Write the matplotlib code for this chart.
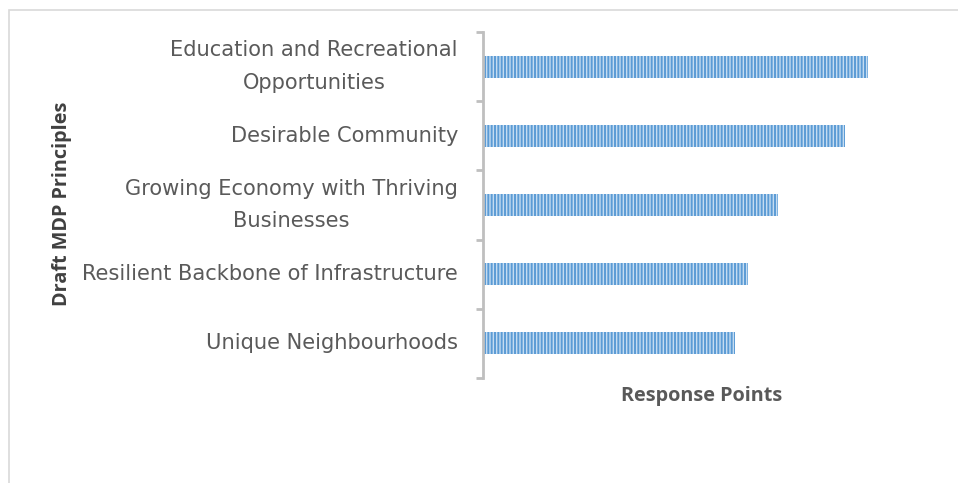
import matplotlib.pyplot as plt
from matplotlib.patches import Rectangle

# survey results: response points per draft principle (top to bottom)
principles = ['Education and Recreational\nOpportunities',
              'Desirable Community',
              'Growing Economy with Thriving\nBusinesses',
              'Resilient Backbone of Infrastructure',
              'Unique Neighbourhoods']
points = [116, 109, 89, 80, 76]

plt.rcParams['font.family'] = ['Open Sans', 'DejaVu Sans']
plt.rcParams['hatch.linewidth'] = 1.4

W, H = 958, 483
fig = plt.figure(figsize=(W / 100, H / 100), dpi=100)

# chart frame, runs off the right and bottom edges
fig.patches.append(Rectangle((9 / W, -0.1), 1.2, 1 - 10 / H + 0.1,
                             transform=fig.transFigure, fill=False,
                             edgecolor='#D9D9D9', linewidth=1.2))

ax = fig.add_axes([483 / W, 1 - 378 / H, (921 - 483) / W, (378 - 32) / H])

n = len(principles)
pos = list(range(n))[::-1]
ax.barh(pos, points, height=0.32, color='#C5DCF1', edgecolor='#5B9BD5',
        hatch='|||||', linewidth=0)

ax.set_ylim(-0.5, n - 0.5)
ax.set_xlim(0, 132)

for s in ['top', 'right', 'bottom']:
    ax.spines[s].set_visible(False)
ax.spines['left'].set_color('#BFBFBF')
ax.spines['left'].set_linewidth(2)

ax.set_xticks([])
ax.set_yticks([p - 0.5 for p in range(n + 1)])
ax.set_yticklabels([])
ax.tick_params(axis='y', which='major', length=5, width=2, color='#BFBFBF')
ax.set_yticks(pos, minor=True)
ax.set_yticklabels(principles, minor=True, fontsize=15.1, color='#5A5A5A',
                   family='DejaVu Sans', multialignment='center',
                   linespacing=1.78, va='center')
ax.tick_params(axis='y', which='minor', length=0, pad=18)

fig.text(702 / W, 1 - 396 / H, 'Response Points', ha='center', va='center',
         fontsize=14.3, fontweight='bold', color='#595959')
fig.text(62 / W, 1 - 204 / H, 'Draft MDP Principles', ha='center', va='center',
         rotation=90, fontsize=14.3, fontweight='bold', color='#404040')

plt.savefig('out.png', dpi=100)
